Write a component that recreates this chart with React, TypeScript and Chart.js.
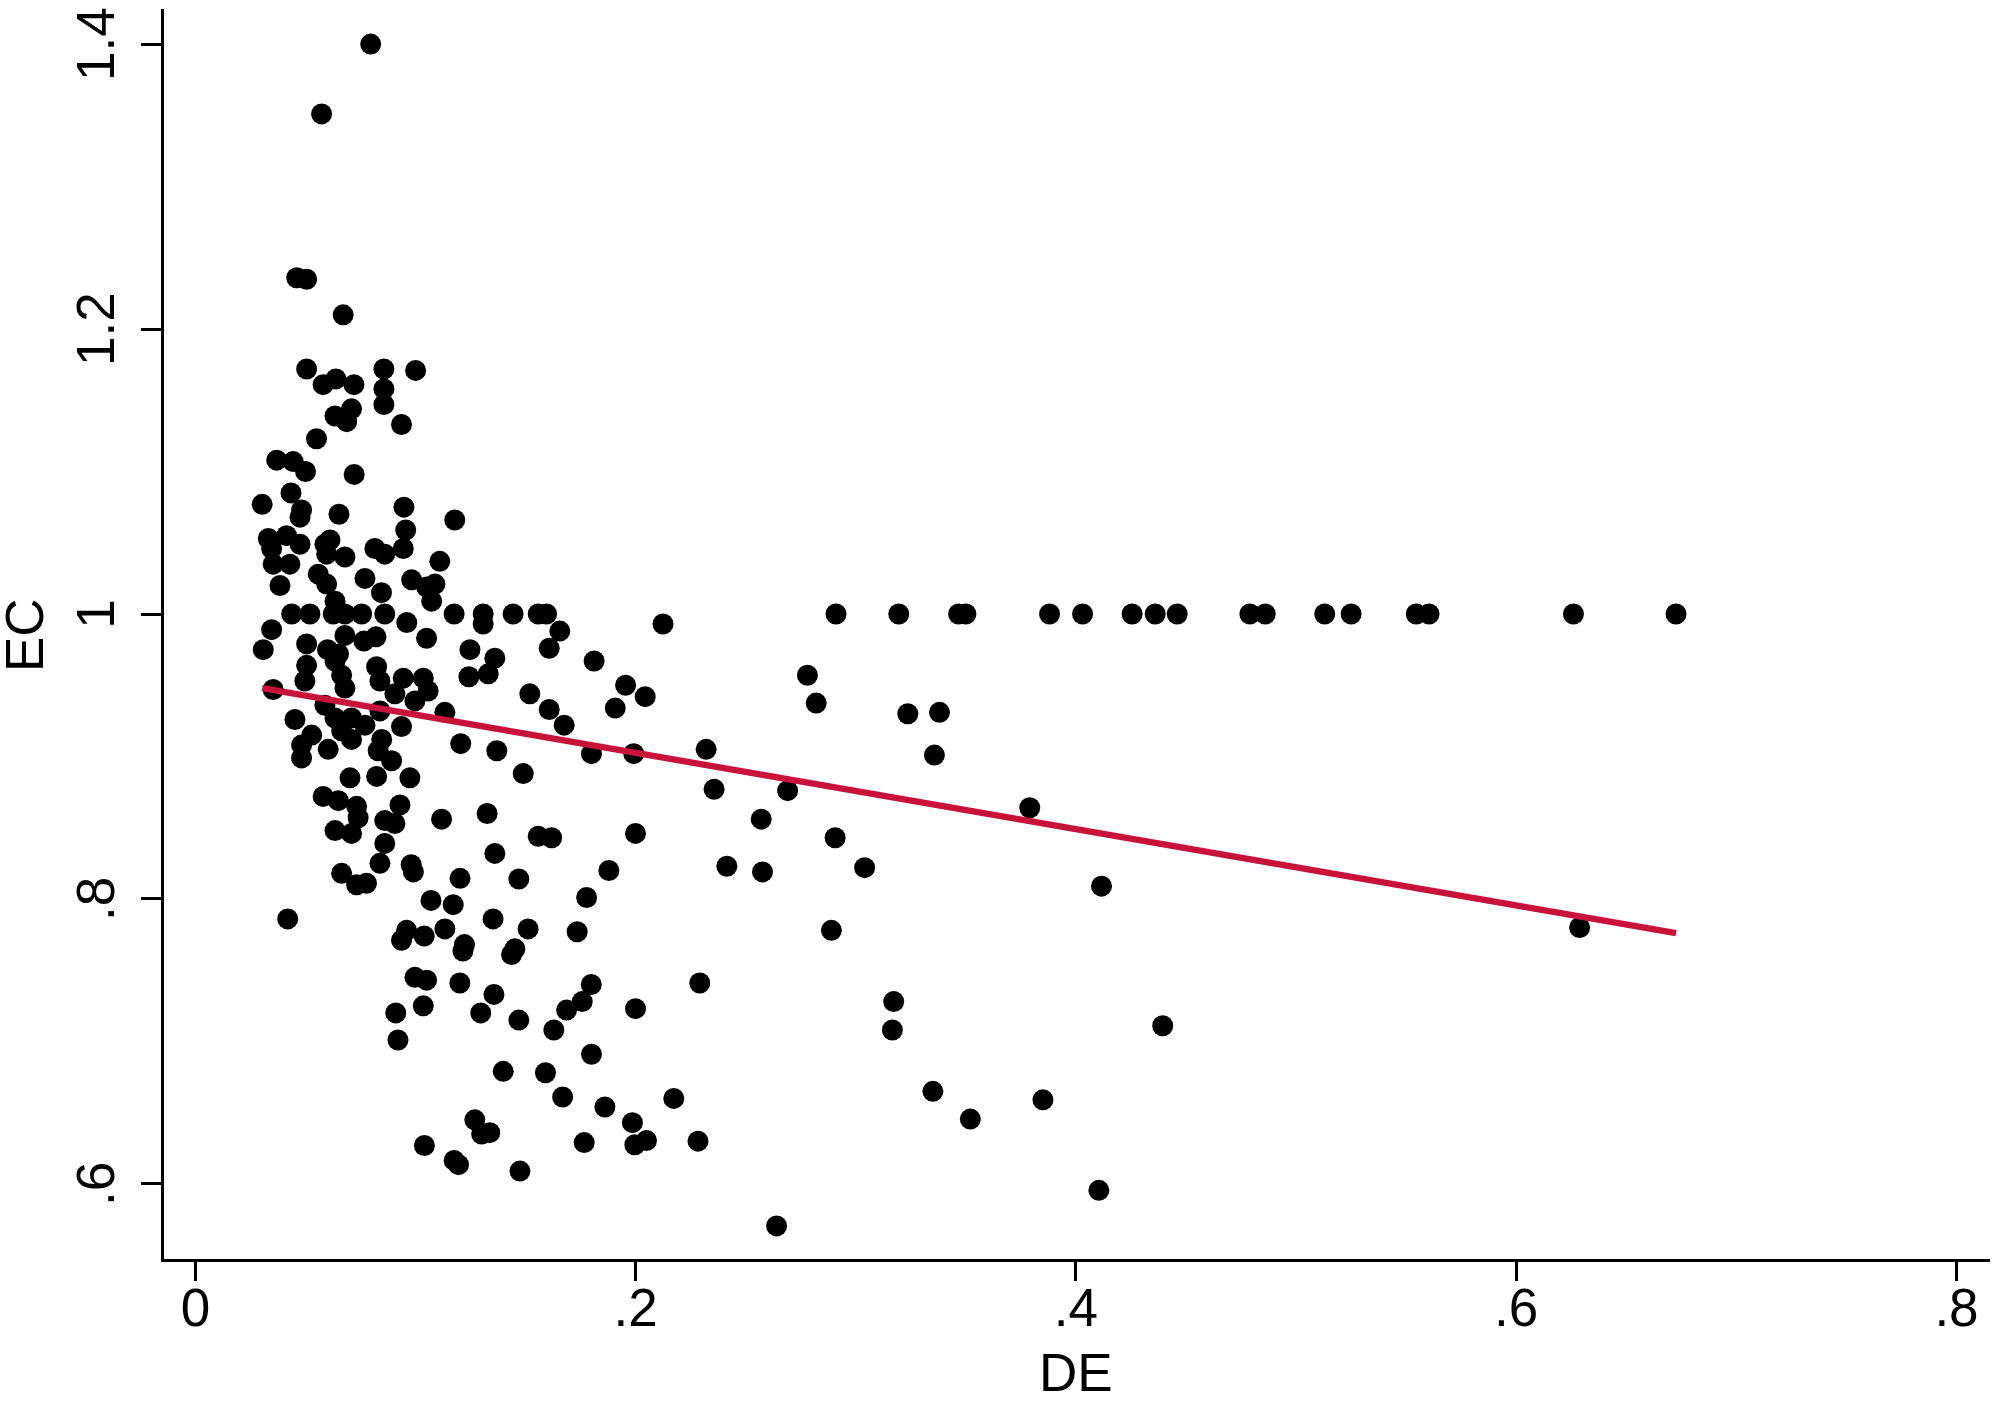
import React, { useEffect, useRef } from 'react';
import { Chart, registerables } from 'chart.js';

Chart.register(...registerables);

const deValues = [
  0.0796, 0.0573, 0.0460, 0.0505, 0.0671, 0.0505, 0.0580, 0.0638, 0.0720, 0.0856,
  0.0856, 0.0856, 0.1000, 0.0634, 0.0687, 0.0709, 0.0936, 0.0550, 0.0369, 0.0444,
  0.0500, 0.0721, 0.0434, 0.0303, 0.0482, 0.0475, 0.0652, 0.0947, 0.0955, 0.1178,
  0.0331, 0.0414, 0.0475, 0.0346, 0.0353, 0.0429, 0.0588, 0.0611, 0.0596, 0.0679,
  0.0815, 0.0860, 0.0944, 0.1110, 0.0384, 0.0558, 0.0596, 0.0770, 0.0845, 0.0982,
  0.1050, 0.1088, 0.1073, 0.0634,
  0.0437, 0.0520, 0.0626, 0.0679, 0.0755, 0.0860, 0.0960, 0.1175, 0.1307, 0.1307,
  0.1443, 0.1557, 0.1595,
  0.2910, 0.3195, 0.3467, 0.3500, 0.3880, 0.4030, 0.4255, 0.4360, 0.4460, 0.4790,
  0.4860, 0.5130, 0.5250, 0.5546, 0.5604, 0.6260, 0.6726,
  0.0346, 0.0308, 0.0505, 0.0600, 0.0650, 0.0679, 0.0765, 0.0820, 0.1050, 0.1247,
  0.0505, 0.0497, 0.0634, 0.0664, 0.0679, 0.0823, 0.0838, 0.0944, 0.1035, 0.1057,
  0.0997, 0.0906, 0.0353, 0.0588, 0.0634, 0.0709, 0.0770, 0.0838, 0.1133, 0.0452,
  0.0936, 0.0664, 0.0709, 0.0528, 0.0482, 0.0482, 0.0603, 0.0846, 0.0830, 0.0891,
  0.1205, 0.0702, 0.0823, 0.0974, 0.0580, 0.0649, 0.0732, 0.0739, 0.0929, 0.0860,
  0.0906, 0.1118, 0.0634, 0.0709, 0.0860, 0.0664, 0.0732, 0.0777, 0.0838, 0.0980,
  0.0990, 0.0419, 0.1070, 0.1171, 0.1202, 0.0959, 0.0936, 0.1039, 0.1133, 0.0997,
  0.1050, 0.1201, 0.1035, 0.0910, 0.0920, 0.1222, 0.1215, 0.1296,
  0.1655, 0.1607, 0.1360, 0.1242, 0.1330, 0.1811, 0.2124, 0.1519, 0.1607, 0.1675,
  0.1954, 0.2043, 0.1907, 0.1369, 0.1489, 0.1799, 0.1991, 0.1325, 0.1557, 0.1618,
  0.1999, 0.1360, 0.1878, 0.1469, 0.1777, 0.1352, 0.1511, 0.1451, 0.1436, 0.1734,
  0.1356, 0.1469, 0.1628, 0.1686, 0.1757, 0.1798, 0.1999, 0.2291, 0.1799, 0.1398,
  0.1590, 0.1668, 0.1860, 0.2173, 0.1269, 0.1300, 0.1337, 0.1985, 0.1766, 0.1996,
  0.2049, 0.2283, 0.1175, 0.1195, 0.1474, 0.1040,
  0.2320, 0.2356, 0.2414, 0.2570, 0.2576, 0.2640, 0.2690, 0.2780, 0.2820, 0.2889,
  0.2906, 0.3040, 0.3172, 0.3166, 0.3236, 0.3350, 0.3357, 0.3380, 0.3520, 0.3790,
  0.3850, 0.4104, 0.4116, 0.4394, 0.6288,
];

const ecValues = [
  1.400, 1.351, 1.236, 1.235, 1.210, 1.172, 1.161, 1.165, 1.161, 1.172,
  1.158, 1.147, 1.171, 1.139, 1.135, 1.144, 1.133, 1.123, 1.108, 1.107,
  1.100, 1.098, 1.085, 1.077, 1.073, 1.068, 1.070, 1.075, 1.059, 1.066,
  1.053, 1.055, 1.049, 1.046, 1.035, 1.035, 1.049, 1.052, 1.042, 1.040,
  1.046, 1.042, 1.046, 1.037, 1.020, 1.028, 1.021, 1.025, 1.015, 1.024,
  1.019, 1.021, 1.009, 1.009,
  1.000, 1.000, 1.000, 1.000, 1.000, 1.000, 0.994, 1.000, 1.000, 0.993,
  1.000, 1.000, 1.000,
  1.000, 1.000, 1.000, 1.000, 1.000, 1.000, 1.000, 1.000, 1.000, 1.000,
  1.000, 1.000, 1.000, 1.000, 1.000, 1.000, 1.000,
  0.989, 0.975, 0.979, 0.975, 0.972, 0.985, 0.981, 0.984, 0.983, 0.975,
  0.964, 0.953, 0.967, 0.957, 0.948, 0.963, 0.953, 0.955, 0.955, 0.946,
  0.939, 0.944, 0.947, 0.936, 0.927, 0.927, 0.922, 0.932, 0.931, 0.926,
  0.921, 0.918, 0.912, 0.915, 0.908, 0.899, 0.905, 0.912, 0.904, 0.897,
  0.909, 0.885, 0.886, 0.885, 0.872, 0.869, 0.865, 0.857, 0.866, 0.855,
  0.853, 0.856, 0.848, 0.846, 0.839, 0.818, 0.810, 0.811, 0.825, 0.824,
  0.819, 0.786, 0.799, 0.796, 0.8145, 0.778, 0.771, 0.774, 0.779, 0.745,
  0.743, 0.741, 0.725, 0.720, 0.701, 0.768, 0.7635, 0.720,
  0.988, 0.976, 0.969, 0.956, 0.958, 0.967, 0.993, 0.944, 0.933, 0.922,
  0.950, 0.942, 0.934, 0.904, 0.888, 0.902, 0.902, 0.860, 0.844, 0.843,
  0.846, 0.832, 0.820, 0.814, 0.801, 0.786, 0.779, 0.765, 0.761, 0.777,
  0.733, 0.715, 0.708, 0.722, 0.728, 0.740, 0.723, 0.741, 0.691, 0.679,
  0.678, 0.661, 0.654, 0.660, 0.645, 0.635, 0.636, 0.643, 0.629, 0.6275,
  0.6305, 0.630, 0.6165, 0.6135, 0.609, 0.627,
  0.905, 0.877, 0.823, 0.856, 0.819, 0.5705, 0.876, 0.957, 0.9375, 0.778,
  0.843, 0.822, 0.728, 0.708, 0.930, 0.665, 0.901, 0.931, 0.6455, 0.864,
  0.659, 0.5955, 0.809, 0.711, 0.780,
];

// Fitted line end points
const fitDE = [0.0303, 0.6726];
const fitEC = [0.948, 0.776];

const xTickValues = [0, 0.2, 0.4, 0.6, 0.8];
const xTickLabels = ['0', '.2', '.4', '.6', '.8'];
const yTickValues = [0.6, 0.8, 1, 1.2, 1.4];
const yTickLabels = ['.6', '.8', '1', '1.2', '1.4'];
const xTitle = 'DE';
const yTitle = 'EC';

const FONT = '"Liberation Sans", Arial, Helvetica, sans-serif';

function labelFor(values: number[], labels: string[], v: number): string {
  const i = values.findIndex((t) => Math.abs(t - v) < 1e-9);
  return i >= 0 ? labels[i] : '';
}

export default function App() {
  const ref = useRef<HTMLCanvasElement>(null);

  useEffect(() => {
    const canvas = ref.current;
    if (!canvas) return;
    const chart = new Chart(canvas, {
      type: 'scatter',
      data: {
        datasets: [
          {
            type: 'scatter',
            data: fitDE.map((x, i) => ({ x, y: fitEC[i] })),
            showLine: true,
            borderColor: 'rgb(200,18,58)',
            backgroundColor: 'rgb(200,18,58)',
            borderWidth: 6.5,
            pointRadius: 0,
            order: 0,
          } as any,
          {
            type: 'scatter',
            data: deValues.map((x, i) => ({ x, y: ecValues[i] })),
            pointRadius: 10.5,
            pointHoverRadius: 10.5,
            backgroundColor: '#000',
            borderWidth: 0,
            order: 1,
          } as any,
        ],
      },
      options: {
        animation: false,
        responsive: false,
        devicePixelRatio: 1,
        layout: { padding: { left: 0, right: 10, top: 6, bottom: 0 } },
        plugins: { legend: { display: false }, tooltip: { enabled: false } },
        scales: {
          x: {
            type: 'linear',
            min: -0.0152,
            max: 0.815,
            afterBuildTicks: (s: any) => {
              s.ticks = xTickValues.map((v) => ({ value: v }));
            },
            afterFit: (s: any) => {
              s.height = 143;
              s.paddingLeft = 0;
              s.paddingRight = 0;
            },
            ticks: {
              callback: (v: any) => labelFor(xTickValues, xTickLabels, Number(v)),
              font: { family: FONT, size: 53, lineHeight: 1 },
              color: '#000',
              padding: 3.5,
              minRotation: 0,
              maxRotation: 0,
              autoSkip: false,
            },
            grid: {
              display: true,
              drawOnChartArea: false,
              drawTicks: true,
              tickLength: 21,
              tickWidth: 3,
              tickColor: '#000',
              color: '#000',
            },
            border: { display: true, color: '#000', width: 3 },
            title: {
              display: true,
              text: xTitle,
              font: { family: FONT, size: 53, lineHeight: 1 },
              color: '#000',
              padding: { top: 0, bottom: 0 },
            },
          },
          y: {
            type: 'linear',
            min: 0.5466,
            max: 1.4236,
            afterBuildTicks: (s: any) => {
              s.ticks = yTickValues.map((v) => ({ value: v }));
            },
            afterFit: (s: any) => {
              s.width = 162;
              s.paddingTop = 0;
              s.paddingBottom = 0;
            },
            ticks: {
              callback: (v: any) => labelFor(yTickValues, yTickLabels, Number(v)),
              font: { family: FONT, size: 53, lineHeight: 1 },
              color: '#000',
              padding: 5,
              minRotation: 90,
              maxRotation: 90,
              crossAlign: 'center',
              autoSkip: false,
            },
            grid: {
              display: true,
              drawOnChartArea: false,
              drawTicks: true,
              tickLength: 21,
              tickWidth: 3,
              tickColor: '#000',
              color: '#000',
            },
            border: { display: true, color: '#000', width: 3 },
            title: {
              display: true,
              text: yTitle,
              font: { family: FONT, size: 53, lineHeight: 1 },
              color: '#000',
              padding: { top: 2, bottom: 0 },
            },
          },
        },
      } as any,
    });
    return () => chart.destroy();
  }, []);

  return (
    <div style={{ position: 'fixed', left: 0, top: 0, width: 2000, height: 1403, background: '#fff' }}>
      <canvas ref={ref} width={2000} height={1403} style={{ width: 2000, height: 1403, display: 'block' }} />
    </div>
  );
}
